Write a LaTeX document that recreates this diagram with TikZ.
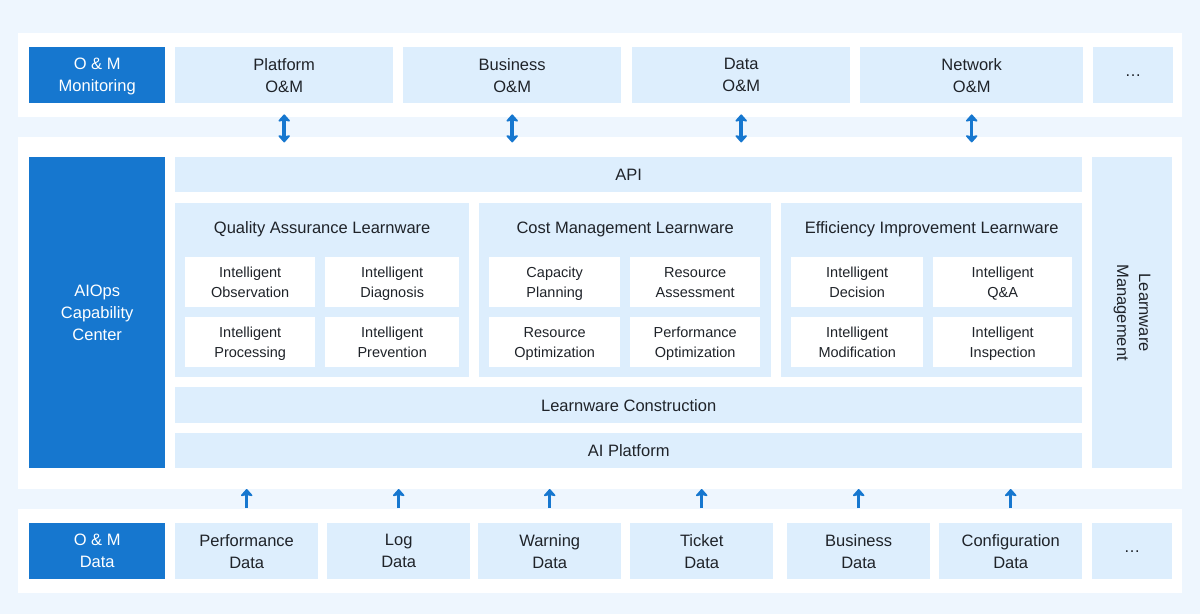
\documentclass[tikz,border=0pt]{standalone}
\usepackage{fontspec}
\setmainfont{Liberation Sans}
\usetikzlibrary{arrows.meta}

\definecolor{aiblue}{HTML}{1677CF}
\definecolor{paleblue}{HTML}{DDEEFD}
\definecolor{bgblue}{HTML}{EEF6FE}
\definecolor{ink}{HTML}{1F2329}

\newcommand{\bigtxt}{\fontsize{16.5}{22}\selectfont}
\newcommand{\tiletxt}{\fontsize{14.5}{20}\selectfont}

\tikzset{
	sized/.style 2 args={anchor=north west, inner sep=0pt, align=center,
		minimum width=#1pt, minimum height=#2pt, text depth=0pt},
	band/.style={fill=white},
	dark/.style={fill=aiblue, text=white, font=\bigtxt},
	pale/.style={fill=paleblue, text=ink, font=\bigtxt},
	tile/.style={fill=white, text=ink, font=\tiletxt},
	ttl/.style={text=ink, font=\bigtxt, inner sep=0pt},
	twoway/.style={aiblue, line width=3.5pt,
		{Stealth[length=8pt,width=14pt,inset=1.5pt,round]}-{Stealth[length=8pt,width=14pt,inset=1.5pt,round]}},
	oneway/.style={aiblue, line width=3.5pt,
		-{Stealth[length=8pt,width=14pt,inset=1.5pt,round]}}
}

\begin{document}
\begin{tikzpicture}[x=1pt, y=-1pt]
	\fill[bgblue] (0,0) rectangle (1200,614);
	\useasboundingbox (0,0) rectangle (1200,614);

	% white bands
	\node[band, sized={1164}{84}] (topband) at (18,33) {};
	\node[band, sized={1164}{352}] (midband) at (18,137) {};
	\node[band, sized={1164}{84}] (botband) at (18,509) {};

	% monitoring row
	\node[dark, sized={136}{56}] (mon) at (29,47) {O \& M\\Monitoring};
	\node[pale, sized={218}{56}] (platom) at (175,47) {Platform\\O\&M};
	\node[pale, sized={218}{56}] (busom) at (403,47) {Business\\O\&M};
	\node[pale, sized={218}{56}] (datom) at (632,47) {Data\\O\&M};
	\node[pale, sized={223}{56}] (netom) at (860,47) {Network\\O\&M};
	\node[pale, sized={80}{56}] (moreom) at (1093,47) {…};

	% capability center
	\node[dark, sized={136}{311}] (aiops) at (29,157) {AIOps\\Capability\\Center};
	\node[pale, sized={907}{35}] (api) at (175,157) {API};
	\node[pale, sized={80}{311}] (lwm) at (1092,157) {};
	\node[ttl, rotate=-90, align=center] (lwmtxt) at (lwm) {Learnware\\Management};

	\node[pale, sized={294}{174}] (qa) at (175,203) {};
	\node[pale, sized={292}{174}] (cost) at (479,203) {};
	\node[pale, sized={301}{174}] (eff) at (781,203) {};
	\node[ttl] (qatxt) at ([yshift=-26pt]qa.north) {Quality Assurance Learnware};
	\node[ttl] (costtxt) at ([yshift=-26pt]cost.north) {Cost Management Learnware};
	\node[ttl] (efftxt) at ([yshift=-26pt]eff.north) {Efficiency Improvement Learnware};

	\node[tile, sized={130}{50}] (observ) at (185,257) {Intelligent\\Observation};
	\node[tile, sized={134}{50}] (diagn) at (325,257) {Intelligent\\Diagnosis};
	\node[tile, sized={130}{50}] (proc) at (185,317) {Intelligent\\Processing};
	\node[tile, sized={134}{50}] (prev) at (325,317) {Intelligent\\Prevention};

	\node[tile, sized={131}{50}] (capplan) at (489,257) {Capacity\\Planning};
	\node[tile, sized={130}{50}] (resass) at (630,257) {Resource\\Assessment};
	\node[tile, sized={131}{50}] (resopt) at (489,317) {Resource\\Optimization};
	\node[tile, sized={130}{50}] (perfopt) at (630,317) {Performance\\Optimization};

	\node[tile, sized={132}{50}] (decis) at (791,257) {Intelligent\\Decision};
	\node[tile, sized={139}{50}] (qanda) at (933,257) {Intelligent\\Q\&A};
	\node[tile, sized={132}{50}] (modif) at (791,317) {Intelligent\\Modification};
	\node[tile, sized={139}{50}] (insp) at (933,317) {Intelligent\\Inspection};

	\node[pale, sized={907}{36}] (constr) at (175,387) {Learnware Construction};
	\node[pale, sized={907}{35}] (aiplat) at (175,433) {AI Platform};

	% data row
	\node[dark, sized={136}{56}] (omdata) at (29,523) {O \& M\\Data};
	\node[pale, sized={143}{56}] (perfd) at (175,523) {Performance\\Data};
	\node[pale, sized={143}{56}] (logd) at (327,523) {Log\\Data};
	\node[pale, sized={143}{56}] (warnd) at (478,523) {Warning\\Data};
	\node[pale, sized={143}{56}] (tickd) at (630,523) {Ticket\\Data};
	\node[pale, sized={143}{56}] (busd) at (787,523) {Business\\Data};
	\node[pale, sized={143}{56}] (confd) at (939,523) {Configuration\\Data};
	\node[pale, sized={80}{56}] (mored) at (1092,523) {…};

	% arrows
	\foreach \n in {platom,busom,datom,netom}
		\draw[twoway] ([yshift=-11pt]\n.south) -- ([yshift=-39pt]\n.south);
	\foreach \n in {perfd,logd,warnd,tickd,busd,confd}
		\draw[oneway] ([yshift=15pt]\n.north) -- ([yshift=34pt]\n.north);
\end{tikzpicture}
\end{document}
